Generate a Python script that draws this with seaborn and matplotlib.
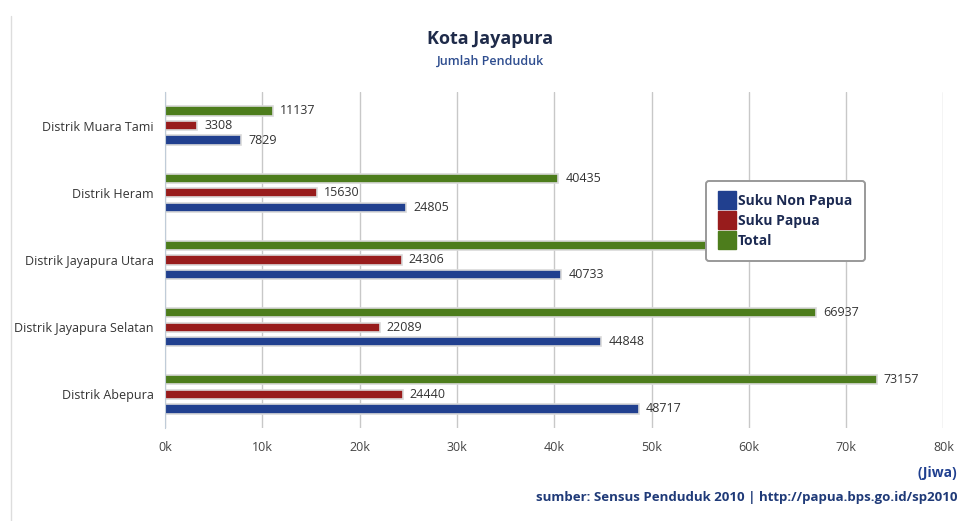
import matplotlib
matplotlib.use("Agg")
import matplotlib.pyplot as plt
from matplotlib.lines import Line2D
import seaborn as sns
import pandas as pd

# data
districts = ["Distrik Muara Tami", "Distrik Heram", "Distrik Jayapura Utara",
             "Distrik Jayapura Selatan", "Distrik Abepura"]
non_papua = [7829, 24805, 40733, 44848, 48717]
papua = [3308, 15630, 24306, 22089, 24440]
total = [11137, 40435, 65039, 66937, 73157]

series = ["Suku Non Papua", "Suku Papua", "Total"]
colors = {"Suku Non Papua": "#21408f", "Suku Papua": "#981c1c", "Total": "#4d7d1c"}

df = pd.DataFrame({
    "distrik": districts * 3,
    "seri": ["Total"] * 5 + ["Suku Papua"] * 5 + ["Suku Non Papua"] * 5,
    "jiwa": total + papua + non_papua,
})

sns.set_style("white")
plt.rcParams["font.family"] = ["Open Sans", "DejaVu Sans"]

fig = plt.figure(figsize=(9.61, 5.21), dpi=100)
ax = fig.add_axes([0.1717, 0.1785, 0.81, 0.645])

sns.barplot(data=df, y="distrik", x="jiwa", hue="seri",
            hue_order=["Total", "Suku Papua", "Suku Non Papua"],
            palette=colors, orient="h", width=0.65, gap=0.36,
            edgecolor="#d9d9d9", linewidth=1.2, saturation=1,
            errorbar=None, legend=False, ax=ax)

for cont in ax.containers:
    ax.bar_label(cont, fmt="%d", padding=5, fontsize=9, color="#333333")

ax.set_xlim(0, 80000)
ax.set_ylim(4.5, -0.5)
ax.set_xticks(range(0, 80001, 10000))
ax.set_xticklabels([f"{v // 1000}k" for v in range(0, 80001, 10000)],
                   fontsize=9, color="#444444")
ax.tick_params(axis="x", length=5, color="#cccccc", pad=4)
ax.tick_params(axis="y", length=0, labelsize=9, labelcolor="#333333", pad=8)
ax.set_yticks([0.5, 1.5, 2.5, 3.5], minor=True)
ax.tick_params(axis="y", which="minor", length=5, color="#c0ccd8")
ax.grid(axis="x", color="#c8c8c8", linewidth=1)
ax.set_axisbelow(True)
ax.set_xlabel("")
ax.set_ylabel("")
for s in ["top", "right", "bottom"]:
    ax.spines[s].set_visible(False)
ax.spines["left"].set_color("#c0ccd8")

# legend (ordered as in the reference)
handles = [Line2D([], [], marker="s", linestyle="", markersize=13,
                  markerfacecolor=colors[s], markeredgecolor=colors[s]) for s in series]
leg = ax.legend(handles, series, loc="upper left", bbox_to_anchor=(0.686, 0.755),
                frameon=True, fancybox=True, framealpha=1, handletextpad=0.2,
                labelspacing=0.45, handlelength=1.2,
                prop={"size": 10, "weight": "bold"}, borderpad=0.9)
leg.get_frame().set_edgecolor("#999999")
leg.get_frame().set_linewidth(1.4)
for t in leg.get_texts():
    t.set_color("#1c2a52")
leg.set_zorder(10)

# titles and footer
fig.text(0.51, 0.925, "Kota Jayapura", ha="center", va="center",
         fontsize=13, color="#1f2b4a", fontweight="bold")
fig.text(0.51, 0.882, "Jumlah Penduduk", ha="center", va="center",
         fontsize=9, color="#2e4d8f", fontweight="semibold")
fig.text(0.996, 0.092, "(Jiwa)", ha="right", va="center",
         fontsize=10, color="#1f3f8f", fontweight="bold")
fig.text(0.996, 0.046, "sumber: Sensus Penduduk 2010 | http://papua.bps.go.id/sp2010",
         ha="right", va="center", fontsize=9.5, color="#1f3a78", fontweight="bold")

# thin frame line of the original screenshot
fig.add_artist(Line2D([0.011, 0.011], [0.0, 0.97], color="#dddddd", linewidth=1))

fig.savefig("out.png", dpi=100)
